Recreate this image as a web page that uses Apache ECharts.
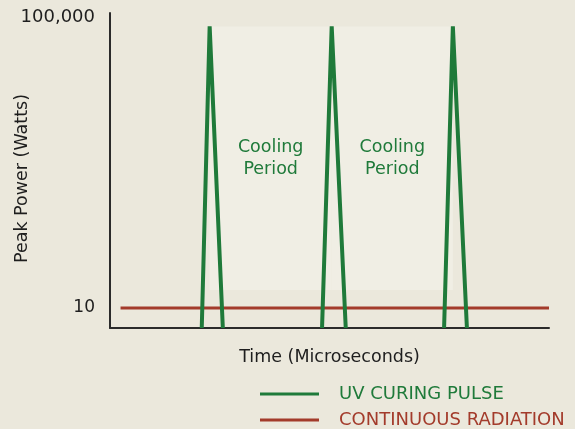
<!DOCTYPE html>
<html>
<head>
<meta charset="utf-8">
<script src="https://cdn.jsdelivr.net/npm/echarts@6/dist/echarts.min.js"></script>
<style>
  html, body { margin: 0; padding: 0; background: #ebe8dc; }
  #chart { width: 575px; height: 429px; }
</style>
</head>
<body>
<div id="chart"></div>
<script>
// pulse timing (x axis units, arbitrary microseconds scale)
var pulseStart = [20.9, 48.3, 76.1]
var pulsePeak = [22.7, 50.5, 78.1]
var pulseEnd = [25.7, 53.7, 81.3]
var peakPower = 100000
var floorPower = 5.2
var continuousPower = 10
var continuousRange = [2.4, 100]
var yTickLabels = [10, 100000]
var coolingTop = 100000
var coolingBottom = 18

var green = '#1f7a3a'
var red = '#a33b2b'
var font = 'DejaVu Sans'

// build pulse polyline, breaking between pulses
var pulseData = []
for (var i = 0; i < pulsePeak.length; i++) {
  pulseData.push([pulseStart[i], floorPower])
  pulseData.push([pulsePeak[i], peakPower])
  pulseData.push([pulseEnd[i], floorPower])
  pulseData.push([pulseEnd[i], '-'])
}

var coolingAreas = []
for (var j = 0; j < pulsePeak.length - 1; j++) {
  coolingAreas.push([
    { xAxis: pulsePeak[j], yAxis: coolingTop },
    { xAxis: pulsePeak[j + 1], yAxis: coolingBottom }
  ])
}

var chart = echarts.init(document.getElementById('chart'))
chart.setOption({
  backgroundColor: '#ebe8dc',
  animation: false,
  grid: { left: 110, right: 26, top: 13, bottom: 101, outerBoundsMode: 'none' },
  legend: {
    orient: 'vertical',
    left: 260,
    top: 385,
    height: 80,
    itemWidth: 59,
    itemHeight: 3,
    itemGap: 8,
    icon: 'rect',
    padding: 0,
    textStyle: { fontFamily: font, fontSize: 18, lineHeight: 17, padding: [0, 0, 0, 15] },
    data: [
      { name: 'UV CURING PULSE', textStyle: { color: green } },
      { name: 'CONTINUOUS RADIATION', textStyle: { color: red } }
    ]
  },
  xAxis: {
    type: 'value',
    min: 0,
    max: 100,
    name: 'Time (Microseconds)',
    nameLocation: 'middle',
    nameGap: 20,
    nameTextStyle: { fontFamily: font, fontSize: 17.5, color: '#1e1e1e' },
    axisLine: { lineStyle: { color: '#2b2b2b', width: 2 } },
    axisTick: { show: false },
    axisLabel: { show: false },
    splitLine: { show: false }
  },
  yAxis: {
    type: 'log',
    logBase: 10,
    min: floorPower,
    max: 155000,
    name: 'Peak Power (Watts)',
    nameLocation: 'middle',
    nameGap: 79,
    nameMoveOverlap: false,
    nameTextStyle: { fontFamily: font, fontSize: 17.5, color: '#1e1e1e', padding: [0, 16, 0, 0] },
    axisLine: { show: true, lineStyle: { color: '#2b2b2b', width: 2 } },
    axisTick: { show: false },
    splitLine: { show: false },
    axisLabel: {
      margin: 15,
      fontFamily: font,
      fontSize: 17,
      color: '#1e1e1e',
      showMinLabel: false,
      showMaxLabel: false,
      formatter: function (v) {
        for (var k = 0; k < yTickLabels.length; k++) {
          if (Math.abs(v - yTickLabels[k]) / yTickLabels[k] < 0.001) {
            var s = yTickLabels[k].toLocaleString('en-US')
            return k === yTickLabels.length - 1 ? '{top|' + s + '}' : s
          }
        }
        return ''
      },
      rich: {
        top: { fontFamily: font, fontSize: 18, color: '#1e1e1e', padding: [0, 0, 18, 0] }
      }
    }
  },
  series: [
    {
      name: 'UV CURING PULSE',
      type: 'line',
      data: pulseData,
      symbol: 'none',
      connectNulls: false,
      color: green,
      lineStyle: { color: green, width: 4, join: 'bevel' },
      z: 3,
      markArea: {
        silent: true,
        itemStyle: { color: '#f0eee4' },
        label: {
          show: true,
          position: 'inside',
          formatter: 'Cooling\nPeriod',
          fontFamily: font,
          fontSize: 17.5,
          lineHeight: 22,
          color: green
        },
        data: coolingAreas
      }
    },
    {
      name: 'CONTINUOUS RADIATION',
      type: 'line',
      data: [[continuousRange[0], continuousPower], [continuousRange[1], continuousPower]],
      symbol: 'none',
      color: red,
      lineStyle: { color: red, width: 3 },
      z: 2
    }
  ]
})
</script>
</body>
</html>
